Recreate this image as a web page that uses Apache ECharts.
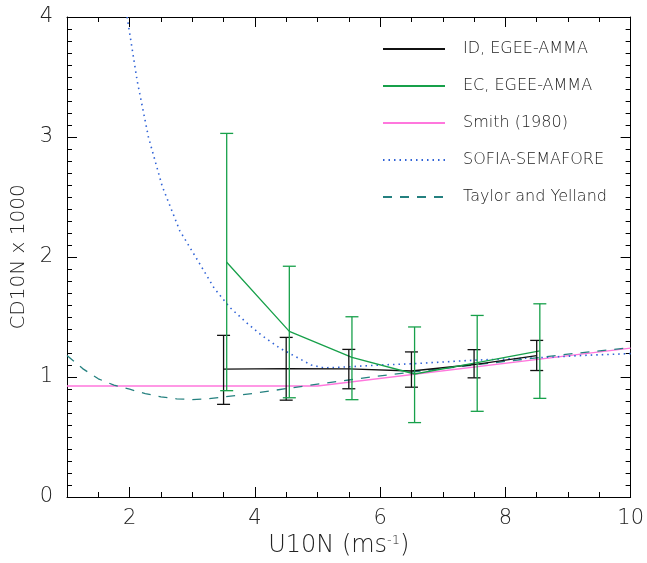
<!DOCTYPE html>
<html><head><meta charset="utf-8">
<script src="https://cdn.jsdelivr.net/npm/echarts@6/dist/echarts.min.js"></script>
<style>html,body{margin:0;padding:0;background:#fff}#c{width:647px;height:563px}</style>
</head><body><div id="c"></div>
<script>
// ---- data ----
const idX    = [3.5, 4.5, 5.5, 6.5, 7.5, 8.5];
const idMean = [1.065, 1.07, 1.068, 1.05, 1.104, 1.178];
const idLow  = [0.772, 0.807, 0.902, 0.915, 0.993, 1.054];
const idHigh = [1.347, 1.33, 1.23, 1.209, 1.228, 1.305];

const ecX    = [3.55, 4.55, 5.55, 6.55, 7.55, 8.55];
const ecMean = [1.956, 1.38, 1.164, 1.025, 1.12, 1.217];
const ecLow  = [0.886, 0.827, 0.811, 0.62, 0.714, 0.822];
const ecHigh = [3.03, 1.923, 1.502, 1.417, 1.513, 1.61];

const smithX = [1, 5, 10];
const smithY = [0.925, 0.925, 1.24];

const sofiaX = [1.96, 2.12, 2.3, 2.52, 2.8, 3.1, 3.35, 3.6, 3.85, 4.1, 4.4, 4.65, 4.9, 5.1, 5.5, 6.0, 6.5, 7.5, 8.5, 9.25, 10];
const sofiaY = [4.0, 3.47, 3.0, 2.59, 2.22, 1.96, 1.74, 1.58, 1.46, 1.35, 1.24, 1.17, 1.10, 1.076, 1.085, 1.10, 1.11, 1.14, 1.16, 1.18, 1.195];

const tyX = [1.0, 1.25, 1.5, 1.75, 2.0, 2.25, 2.5, 2.75, 3.0, 3.25, 3.5, 4.0, 4.5, 5.0, 5.5, 6.0, 7.0, 8.0, 9.0, 10.0];
const tyY = [1.18, 1.07, 0.985, 0.932, 0.898, 0.862, 0.835, 0.818, 0.812, 0.818, 0.833, 0.865, 0.903, 0.94, 0.975, 1.01, 1.07, 1.13, 1.19, 1.245];

const xLabelValues = [2, 4, 6, 8, 10];
const xMajorTicks = [2, 4, 6, 8];
const legendNames = ['ID, EGEE-AMMA', 'EC, EGEE-AMMA', 'Smith (1980)', 'SOFIA-SEMAFORE', 'Taylor and Yelland'];

// ---- chart ----
const font = 'DejaVu Sans';
const cBlack = '#111111', cGreen = '#17a04a', cPink = '#ff77dd', cBlue = '#2f62d6', cTeal = '#24807f';
const pairs = (xs, ys) => xs.map((x, i) => [x, ys[i]]);

function errSeries(name, color, xs, lo, hi) {
  return {
    type: 'custom', name, z: 6,
    data: xs.map((x, i) => [x, lo[i], hi[i]]),
    encode: { x: 0, y: [1, 2] },
    renderItem(params, api) {
      const x = api.value(0);
      const p1 = api.coord([x, api.value(1)]), p2 = api.coord([x, api.value(2)]);
      const w = 6.5;
      const style = { stroke: color, lineWidth: 1.3, fill: null };
      return { type: 'group', children: [
        { type: 'line', shape: { x1: p1[0], y1: p1[1], x2: p2[0], y2: p2[1] }, style },
        { type: 'line', shape: { x1: p1[0] - w, y1: p1[1], x2: p1[0] + w, y2: p1[1] }, style },
        { type: 'line', shape: { x1: p2[0] - w, y1: p2[1], x2: p2[0] + w, y2: p2[1] }, style }
      ] };
    }
  };
}

const axisLineStyle = { color: '#000', width: 1 };
const labelStyle = { fontFamily: font, fontSize: 21, color: '#222', fontWeight: 200 };

function xAx(pos, major, showLabel) {
  const a = {
    type: 'value', position: pos, min: 1, max: 10,
    axisLine: { show: major, onZero: false, lineStyle: axisLineStyle },
    splitLine: { show: false },
    axisLabel: { show: false }
  };
  if (major) {
    a.axisTick = { show: true, inside: true, length: 10, customValues: xMajorTicks, lineStyle: axisLineStyle };
  } else {
    a.interval = 0.5;
    a.axisTick = { show: true, inside: true, length: 5, lineStyle: axisLineStyle };
  }
  if (showLabel) {
    a.axisLabel = Object.assign({ show: true, customValues: xLabelValues, margin: 11 }, labelStyle);
    a.name = 'U10N (ms{sup|-1})';
    a.nameLocation = 'middle';
    a.nameGap = 37;
    a.nameTextStyle = { fontFamily: font, fontSize: 24, color: '#222', fontWeight: 200, padding: [0, 20, 0, 0],
      rich: { sup: { fontFamily: font, fontSize: 13, color: '#222', fontWeight: 200, verticalAlign: 'top', padding: [0, 0, 10, 0] } } };
  }
  return a;
}

function yAx(pos, showLabel) {
  const a = {
    type: 'value', position: pos, min: 0, max: 4, interval: 1,
    axisLine: { show: true, onZero: false, lineStyle: axisLineStyle },
    axisTick: { show: true, inside: true, length: 10, lineStyle: axisLineStyle },
    minorTick: { show: true, splitNumber: 10, length: 5, lineStyle: axisLineStyle },
    splitLine: { show: false }, minorSplitLine: { show: false },
    axisLabel: { show: false }
  };
  if (showLabel) {
    a.axisLabel = Object.assign({ show: true, margin: 14 }, labelStyle);
    a.name = 'CD10N x 1000';
    a.nameLocation = 'middle';
    a.nameGap = 36;
    a.nameTextStyle = { fontFamily: font, fontSize: 20, color: '#222', fontWeight: 200 };
  }
  return a;
}

const option = {
  animation: false,
  backgroundColor: '#fff',
  grid: { left: 67, right: 15, top: 17, bottom: 64 },
  xAxis: [xAx('bottom', true, true), xAx('bottom', false, false), xAx('top', true, false), xAx('top', false, false)],
  yAxis: [yAx('left', true), yAx('right', false)],
  legend: {
    orient: 'vertical', left: 382, top: 41, padding: 0,
    itemWidth: 62, itemHeight: 14, itemGap: 21,
    data: legendNames,
    itemStyle: { opacity: 0 },
    textStyle: { fontFamily: font, fontSize: 16, color: '#222', fontWeight: 200, padding: [0, 0, 0, 13] }
  },
  series: [
    { type: 'line', name: 'Smith (1980)', data: pairs(smithX, smithY), symbol: 'none', z: 2,
      lineStyle: { color: cPink, width: 1.3 }, itemStyle: { color: cPink } },
    { type: 'line', name: 'SOFIA-SEMAFORE', data: pairs(sofiaX, sofiaY), symbol: 'none', z: 3,
      lineStyle: { color: cBlue, width: 1.6, type: [1.5, 4] }, itemStyle: { color: cBlue } },
    { type: 'line', name: 'Taylor and Yelland', data: pairs(tyX, tyY), symbol: 'none', z: 3,
      lineStyle: { color: cTeal, width: 1.3, type: [9, 8] }, itemStyle: { color: cTeal } },
    { type: 'line', name: 'ID, EGEE-AMMA', data: pairs(idX, idMean), symbol: 'none', z: 4,
      lineStyle: { color: cBlack, width: 1.3 }, itemStyle: { color: cBlack } },
    { type: 'line', name: 'EC, EGEE-AMMA', data: pairs(ecX, ecMean), symbol: 'none', z: 4,
      lineStyle: { color: cGreen, width: 1.3 }, itemStyle: { color: cGreen } },
    errSeries('ID error', cBlack, idX, idLow, idHigh),
    errSeries('EC error', cGreen, ecX, ecLow, ecHigh)
  ]
};
const chart = echarts.init(document.getElementById('c'));
chart.setOption(option);
</script>
</body></html>
